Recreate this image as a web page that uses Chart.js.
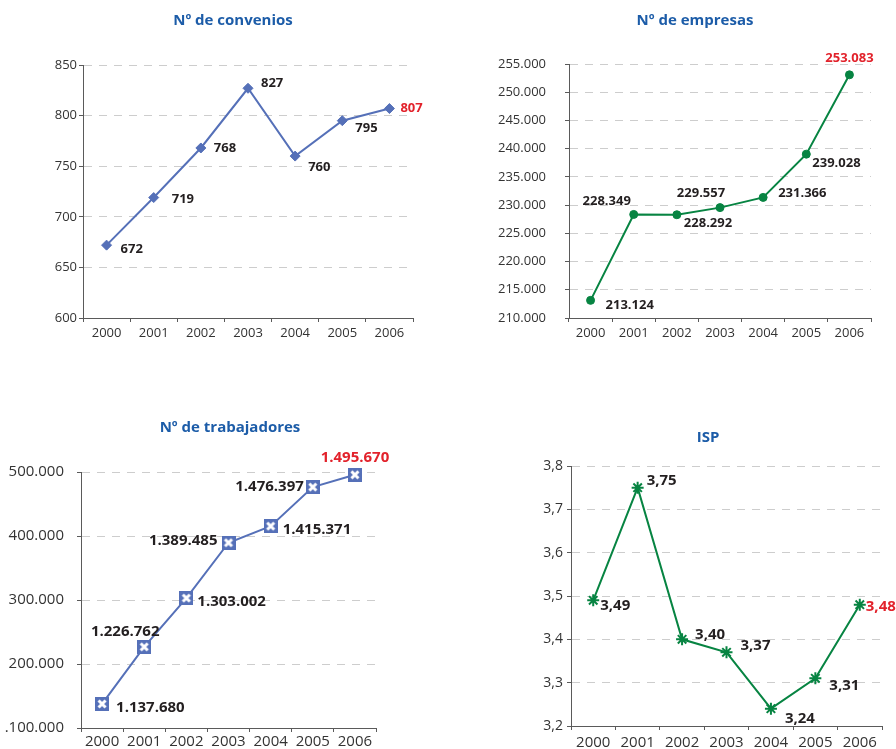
<!DOCTYPE html>
<html>
<head>
<meta charset="utf-8">
<script src="https://cdn.jsdelivr.net/npm/chart.js@4.4.0/dist/chart.umd.min.js"></script>
<style>
    body{margin:0;background:#fff;width:896px;height:749px;overflow:hidden;position:relative}
    canvas{position:absolute}
</style>
</head>
<body>
<canvas id="convChart" width="448" height="400" style="left:0;top:0"></canvas>
<canvas id="empChart" width="448" height="400" style="left:448px;top:0"></canvas>
<canvas id="trabChart" width="448" height="360" style="left:0;top:400px"></canvas>
<canvas id="ispChart" width="448" height="360" style="left:448px;top:400px"></canvas>
<script>
const years = ['2000', '2001', '2002', '2003', '2004', '2005', '2006'];
const convenios = [672, 719, 768, 827, 760, 795, 807];
const empresas = [213124, 228349, 228292, 229557, 231366, 239028, 253083];
const trabajadores = [1137680, 1226762, 1303002, 1389485, 1415371, 1476397, 1495670];
const isp = [3.49, 3.75, 3.40, 3.37, 3.24, 3.31, 3.48];

const convTicks = ['600', '650', '700', '750', '800', '850'];
const empTicks = ['210.000', '215.000', '220.000', '225.000', '230.000', '235.000', '240.000', '245.000', '250.000', '255.000'];
const trabTicks = ['.100.000', '200.000', '300.000', '400.000', '500.000'];
const ispTicks = ['3,2', '3,3', '3,4', '3,5', '3,6', '3,7', '3,8'];

const FONT = "'Open Sans', sans-serif";
const dark = '#231f20';
const red = '#e2222b';
const titleBlue = '#1c5ca8';
const blue = '#5570b8';
const green = '#078442';
const axisColor = '#5a5a5a';
const gridColor = '#cdcdcd';

function thousands(v){
    return String(v).replace(/\B(?=(\d{3})+(?!\d))/g, '.');
}
function decimal(v){
    return v.toFixed(2).replace('.', ',');
}

// blue square with a white cross, marker of the trabajadores chart
function boxCross(size, color){
    let c = document.createElement('canvas');
    c.width = size;
    c.height = size;
    let g = c.getContext('2d');
    g.fillStyle = color;
    g.fillRect(0, 0, size, size);
    g.strokeStyle = '#fff';
    g.lineWidth = 3;
    g.beginPath();
    g.moveTo(3.5, 3.5); g.lineTo(size - 3.5, size - 3.5);
    g.moveTo(size - 3.5, 3.5); g.lineTo(3.5, size - 3.5);
    g.stroke();
    return c;
}

// draws the title and the value next to each point: place = [align, dx, dy]
function labelPlugin(o){
    return {
        id: 'valueLabels',
        afterDraw(chart){
            const ctx = chart.ctx;
            const meta = chart.getDatasetMeta(0);
            const values = chart.data.datasets[0].data;
            ctx.save();
            ctx.textBaseline = 'middle';
            ctx.textAlign = 'center';
            ctx.fillStyle = titleBlue;
            ctx.font = 'bold 15px ' + FONT;
            ctx.fillText(o.title, o.titleAt[0], o.titleAt[1]);

            ctx.font = 'bold ' + o.labelSize + 'px ' + FONT;
            meta.data.forEach((pt, i) => {
                const p = o.place[i];
                ctx.textAlign = p[0];
                ctx.fillStyle = i === values.length - 1 ? red : dark;
                ctx.fillText(o.fmt(values[i]), pt.x + p[1], pt.y + p[2]);
            });
            ctx.restore();
        }
    };
}

function buildChart(o){
    return new Chart(document.getElementById(o.id), {
        type: 'line',
        data: {
            labels: years,
            datasets: [{
                data: o.values,
                borderColor: o.color,
                backgroundColor: o.color,
                borderWidth: 2,
                pointStyle: o.pointStyle,
                pointRadius: o.pointRadius,
                pointBorderWidth: o.pointBorderWidth,
                pointBackgroundColor: o.color,
                pointBorderColor: o.color,
                tension: 0,
                clip: false
            }]
        },
        options: {
            responsive: false,
            animation: false,
            events: [],
            layout: {padding: o.padding},
            plugins: {
                legend: {display: false},
                tooltip: {enabled: false},
                title: {display: false}
            },
            scales: {
                x: {
                    offset: true,
                    grid: {
                        offset: true,
                        drawOnChartArea: false,
                        tickLength: 4,
                        color: axisColor
                    },
                    border: {color: axisColor},
                    ticks: {
                        color: '#333',
                        font: {family: FONT, size: o.xSize},
                        padding: o.xPad,
                        maxRotation: 0,
                        autoSkip: false
                    },
                    afterFit: (s) => {
                        s.height = o.xH;
                        s.paddingLeft = 0;
                        s.paddingRight = 0;
                    }
                },
                y: {
                    min: o.min,
                    max: o.max,
                    grid: {
                        color: (c) => c.index === 0 ? 'rgba(0,0,0,0)' : gridColor,
                        tickColor: axisColor,
                        tickLength: 4
                    },
                    border: {color: axisColor, dash: [8, 7]},
                    ticks: {
                        stepSize: o.step,
                        color: '#333',
                        font: {family: FONT, size: o.ySize},
                        padding: o.yPad,
                        callback: (v, i) => o.ticks[i]
                    },
                    afterFit: (s) => {
                        s.width = o.yW;
                        s.paddingTop = 0;
                        s.paddingBottom = 0;
                    }
                }
            }
        },
        plugins: [labelPlugin(o)]
    });
}

function init(){
    buildChart({
        id: 'convChart', title: 'Nº de convenios', titleAt: [233, 21], values: convenios, color: blue,
        pointStyle: 'rectRot', pointRadius: 5, pointBorderWidth: 1,
        min: 600, max: 850, step: 50, ticks: convTicks,
        padding: {left: 0, right: 35, top: 65, bottom: 52},
        yW: 83, xH: 30, yPad: 2, xPad: 3, ySize: 13, xSize: 13, labelSize: 13,
        fmt: String,
        place: [['left', 14, 4], ['left', 18, 2], ['left', 13, 0], ['left', 13, -5], ['left', 13, 11], ['left', 13, 8], ['left', 11, 0]]
    });
    buildChart({
        id: 'empChart', title: 'Nº de empresas', titleAt: [247, 21], values: empresas, color: green,
        pointStyle: 'circle', pointRadius: 4, pointBorderWidth: 1,
        min: 210000, max: 255000, step: 5000, ticks: empTicks,
        padding: {left: 0, right: 25, top: 64, bottom: 52},
        yW: 121, xH: 30, yPad: 19, xPad: 3, ySize: 13, xSize: 13, labelSize: 13,
        fmt: thousands,
        place: [['left', 15, 5], ['center', -27, -13], ['left', 7, 9], ['center', -19, -14], ['left', 15, -4], ['left', 6, 9], ['center', 0, -17]]
    });
    buildChart({
        id: 'trabChart', title: 'Nº de trabajadores', titleAt: [230, 28], values: trabajadores, color: blue,
        pointStyle: boxCross(14, blue), pointRadius: 7, pointBorderWidth: 0,
        min: 1100000, max: 1500000, step: 100000, ticks: trabTicks,
        padding: {left: 0, right: 72, top: 72, bottom: 2},
        yW: 81, xH: 30, yPad: 13, xPad: 1, ySize: 15, xSize: 15, labelSize: 15,
        fmt: thousands,
        place: [['left', 14, 4], ['center', -19, -15], ['left', 11, 4], ['right', -11, -2], ['left', 12, 4], ['right', -9, 0], ['center', 0, -17]]
    });
    buildChart({
        id: 'ispChart', title: 'ISP', titleAt: [260, 38], values: isp, color: green,
        pointStyle: 'star', pointRadius: 6, pointBorderWidth: 2,
        min: 3.2, max: 3.8, step: 0.1, ticks: ispTicks,
        padding: {left: 0, right: 14, top: 66, bottom: 4},
        yW: 123, xH: 30, yPad: 4, xPad: 4, ySize: 14, xSize: 15, labelSize: 15,
        fmt: decimal,
        place: [['left', 7, 5], ['left', 9, -7], ['left', 13, -5], ['left', 14, -7], ['left', 14, 10], ['left', 14, 7], ['left', 6, 2]]
    });
}
document.addEventListener("DOMContentLoaded", init);
</script>
</body>
</html>
